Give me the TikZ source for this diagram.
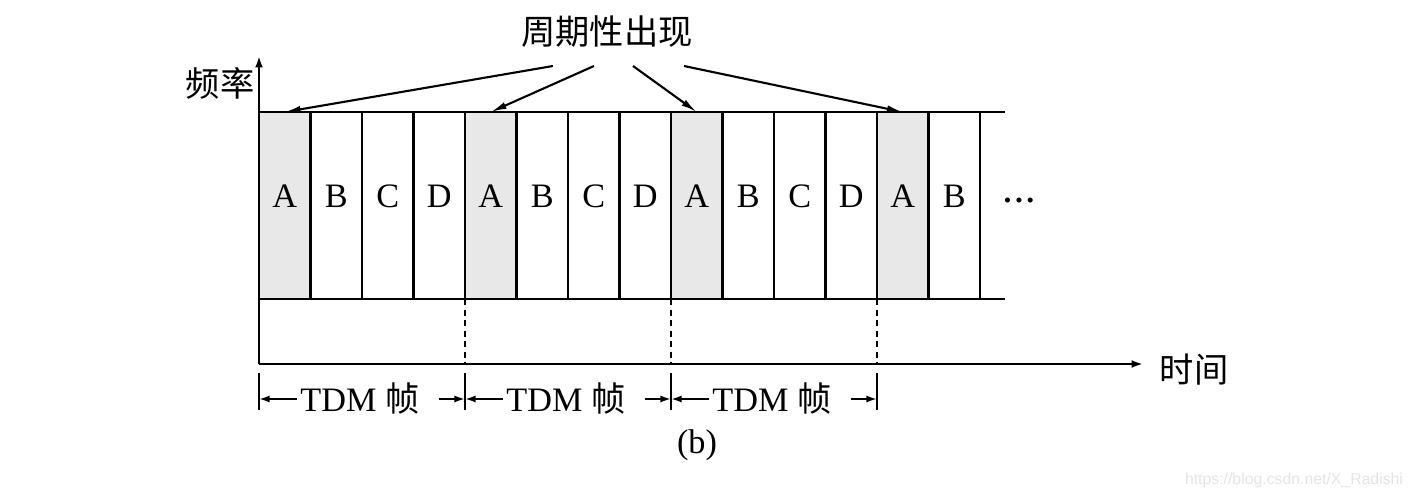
\documentclass[tikz,border=0pt]{standalone}
\usepackage{fontspec}
\setmainfont{Liberation Serif}
\newfontfamily\cjk{Noto Sans CJK SC}
\newfontfamily\wmsans{Liberation Sans}
\usetikzlibrary{arrows.meta, positioning, calc}
\definecolor{slotgray}{RGB}{232,232,232}
\definecolor{wmgray}{RGB}{228,228,228}
\newcommand{\bigfont}{\fontsize{19.5}{23}\selectfont}

\begin{document}
\begin{tikzpicture}[x=0.02cm, y=-0.02cm, font=\bigfont,
  slot/.style={draw, line width=1.2pt, minimum width=1.03cm, minimum height=3.74cm,
    inner sep=0pt, outer sep=0pt, text height=0.46cm, text depth=0.36cm},
  bandline/.style={line width=1.2pt},
  axisline/.style={line width=1.4pt, -{Latex[length=6.5pt, width=4.5pt]}},
  pointer/.style={line width=1.2pt, -{Latex[length=9pt, width=4pt]}},
  dimarrow/.style={line width=1.1pt, -{Latex[length=6pt, width=4pt]}},
  guide/.style={line width=0.9pt, dash pattern=on 3.5pt off 2.5pt},
  tickline/.style={line width=1.1pt},
  framelbl/.style={inner sep=0pt}]
  \useasboundingbox (0,0) rectangle (1412,499);

  % ---- Axes ----
  \coordinate (o) at (259,364);
  \coordinate (ytop) at (259,56);
  \coordinate (xend) at (1143,364);

  % ---- Time slots ----
  \foreach \l/\f [count=\i from 0] in {A/slotgray, B/white, C/white, D/white,
      A/slotgray, B/white, C/white, D/white, A/slotgray, B/white, C/white, D/white,
      A/slotgray, B/white}
    \node[slot, fill=\f] (c\i) at (284.75+51.5*\i, 205.5) {\l};
  \draw[bandline] (c13.north east) -- ++(25,0);
  \draw[bandline] (c13.south east) -- ++(25,0);
  \node[font=\fontsize{12}{14}\selectfont] (dots) at (1019,203)
    {\textbullet\kern2.3pt\textbullet\kern2.3pt\textbullet};

  \draw[axisline] (o) -- (ytop);
  \draw[axisline] (o) -- (xend);
  \node (freq) at (220,83) {\cjk 频率};
  \node (time) at (1194,370) {\cjk 时间};

  % ---- Periodic pointers ----
  \node (per) at (607,32) {\cjk 周期性出现};
  \coordinate (s1) at (553,66);
  \coordinate (s2) at (594,66);
  \coordinate (s3) at (633,66);
  \coordinate (s4) at (684,66);
  \draw[pointer] (s1) -- (c0.north);
  \draw[pointer] (s2) -- (c4.north);
  \draw[pointer] (s3) -- (c8.north);
  \draw[pointer] (s4) -- (c12.north);

  % ---- TDM frames ----
  \foreach \k in {4,8,12}
    \draw[guide] (c\k.south west) -- (c\k.south west |- o);
  \coordinate (tk) at (0,373);
  \coordinate (tb) at (0,410);
  \coordinate (tm) at (0,399);
  \foreach \k in {0,4,8,12}
    \draw[tickline] (c\k.south west |- tk) -- (c\k.south west |- tb);
  \foreach \k/\a/\b in {0/0/4, 1/4/8, 2/8/12} {
    \node[framelbl, anchor=west] (fr\k) at ($(c\a.south west |- tm)+(41,0)$) {TDM {\cjk 帧}};
    \draw[dimarrow, shorten <=1.5pt] (fr\k.west) -- (fr\k.west -| c\a.south west);
    \draw[dimarrow, shorten <=0.38cm] (fr\k.east) -- (fr\k.east -| c\b.south west);
  }

  \node (cap) at (697,445) {(b)};
  \node[font=\wmsans\fontsize{9}{11}\selectfont, text=wmgray] (wm) at (1294,480) {https://blog.csdn.net/X\_Radishi};
\end{tikzpicture}
\end{document}
